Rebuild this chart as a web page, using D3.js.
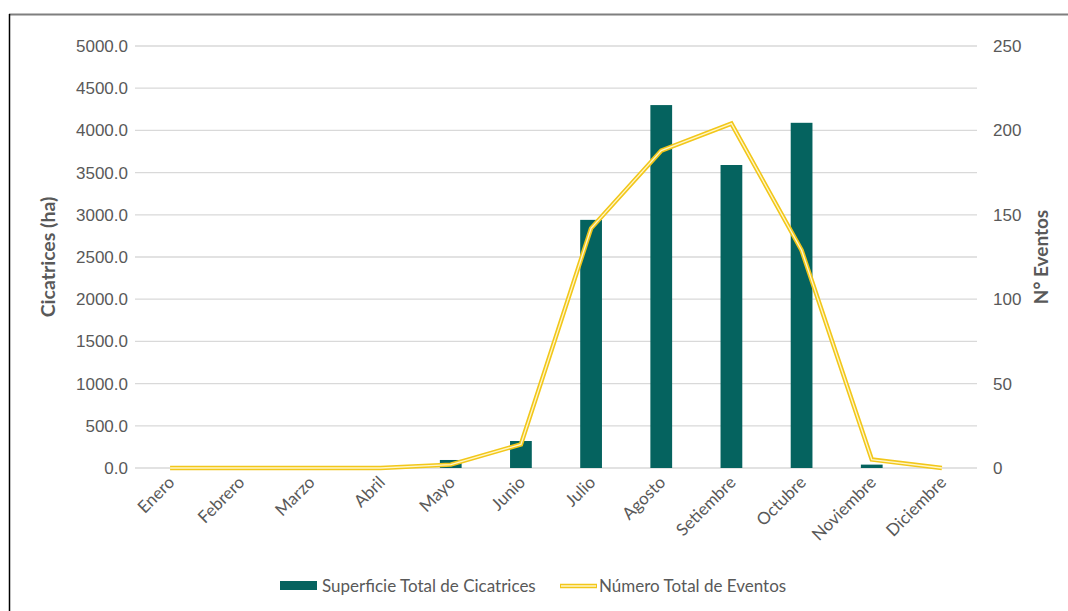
<!DOCTYPE html>
<html>
<head>
<meta charset="utf-8">
<script src="https://d3js.org/d3.v7.min.js"></script>
<style>
    body { margin: 0; background: #fff; }
    svg { font-family: Lato, "Open Sans", Arial, sans-serif; }
</style>
</head>
<body>
<script>
    const months = ['Enero', 'Febrero', 'Marzo', 'Abril', 'Mayo', 'Junio', 'Julio', 'Agosto', 'Setiembre', 'Octubre', 'Noviembre', 'Diciembre']
    const superficie = [0, 0, 0, 0, 95, 320, 2940, 4300, 3590, 4090, 40, 0]
    const eventos = [0, 0, 0, 0, 2, 14, 142, 188, 204, 129, 5, 0]
    const leftTicks = [0, 500, 1000, 1500, 2000, 2500, 3000, 3500, 4000, 4500, 5000]
    const rightTicks = [0, 50, 100, 150, 200, 250]

    const width = 1068
    const height = 611
    const plotL = 135, plotR = 977, plotT = 46, plotB = 468
    const fs = '17px'

    const svg = d3.select('body').append('svg').attr('width', width).attr('height', height)

    // chart frame
    svg.append('line').attr('x1', 9).attr('x2', width).attr('y1', 14.5).attr('y2', 14.5)
        .style('stroke', '#7f7f7f').style('stroke-width', 2)
    svg.append('line').attr('x1', 9.5).attr('x2', 9.5).attr('y1', 14).attr('y2', height)
        .style('stroke', '#000').style('stroke-width', 1.5)

    const x = d3.scaleBand().domain(months).range([plotL, plotR]).paddingInner(0.69).paddingOuter(0.345)
    const xc = d => x(d) + x.bandwidth() / 2
    const y = d3.scaleLinear().domain([0, 5000]).range([plotB, plotT])
    const y2 = d3.scaleLinear().domain([0, 250]).range([plotB, plotT])

    // gridlines
    svg.append('g').selectAll('line').data(leftTicks).join('line')
        .attr('x1', plotL).attr('x2', plotR)
        .attr('y1', d => y(d)).attr('y2', d => y(d))
        .style('stroke', '#d9d9d9').style('stroke-width', 1.3)

    // left axis
    const axL = svg.append('g').attr('transform', 'translate(' + plotL + ',0)')
        .call(d3.axisLeft(y).tickValues(leftTicks).tickFormat(d3.format('.1f')).tickSize(0).tickPadding(7))
    axL.select('.domain').remove()
    axL.selectAll('text').style('font-size', fs).style('fill', '#595959').style('font-family', 'inherit')

    // right axis
    const axR = svg.append('g').attr('transform', 'translate(' + plotR + ',0)')
        .call(d3.axisRight(y2).tickValues(rightTicks).tickSize(0).tickPadding(16))
    axR.select('.domain').remove()
    axR.selectAll('text').style('font-size', fs).style('fill', '#595959').style('font-family', 'inherit')

    // bars
    svg.append('g').selectAll('rect').data(superficie).join('rect')
        .attr('x', (d, i) => x(months[i]))
        .attr('y', d => y(d))
        .attr('width', x.bandwidth())
        .attr('height', d => plotB - y(d))
        .style('fill', '#05635f')

    // line (double stroke)
    const line = d3.line().x((d, i) => xc(months[i])).y(d => y2(d))
    svg.append('path').attr('d', line(eventos))
        .style('fill', 'none').style('stroke', '#f2c71a').style('stroke-width', 4.5).style('stroke-linejoin', 'miter')
    svg.append('path').attr('d', line(eventos))
        .style('fill', 'none').style('stroke', '#fff6c8').style('stroke-width', 1.3)

    // x labels
    svg.append('g').selectAll('text').data(months).join('text')
        .attr('transform', d => 'translate(' + (xc(d) - 3) + ',' + (plotB + 7) + ') rotate(-45)')
        .attr('text-anchor', 'end')
        .attr('dy', '0.7em')
        .style('font-size', fs).style('fill', '#595959')
        .text(d => d)

    // axis titles
    svg.append('text')
        .attr('transform', 'translate(55,' + ((plotT + plotB) / 2) + ') rotate(-90)')
        .attr('text-anchor', 'middle')
        .style('font-size', '19.5px').style('font-weight', 'bold').style('fill', '#595959')
        .text('Cicatrices (ha)')
    svg.append('text')
        .attr('transform', 'translate(1035,' + ((plotT + plotB) / 2) + ') rotate(-90)')
        .attr('text-anchor', 'middle')
        .attr('dy', '0.7em')
        .style('font-size', '19px').style('font-weight', 'bold').style('fill', '#595959')
        .text('N° Eventos')

    // legend
    const lg = svg.append('g')
    lg.append('rect').attr('x', 280).attr('y', 581).attr('width', 37).attr('height', 9).style('fill', '#05635f')
    lg.append('text').attr('x', 322).attr('y', 586).attr('dy', '0.35em')
        .style('font-size', fs).style('fill', '#595959').text('Superficie Total de Cicatrices')
    lg.append('line').attr('x1', 560).attr('x2', 597).attr('y1', 586).attr('y2', 586)
        .style('stroke', '#f2c71a').style('stroke-width', 4.5)
    lg.append('line').attr('x1', 561).attr('x2', 596).attr('y1', 586).attr('y2', 586)
        .style('stroke', '#fff6c8').style('stroke-width', 1.3)
    lg.append('text').attr('x', 599).attr('y', 586).attr('dy', '0.35em')
        .style('font-size', fs).style('fill', '#595959').text('Número Total de Eventos')
</script>
</body>
</html>
